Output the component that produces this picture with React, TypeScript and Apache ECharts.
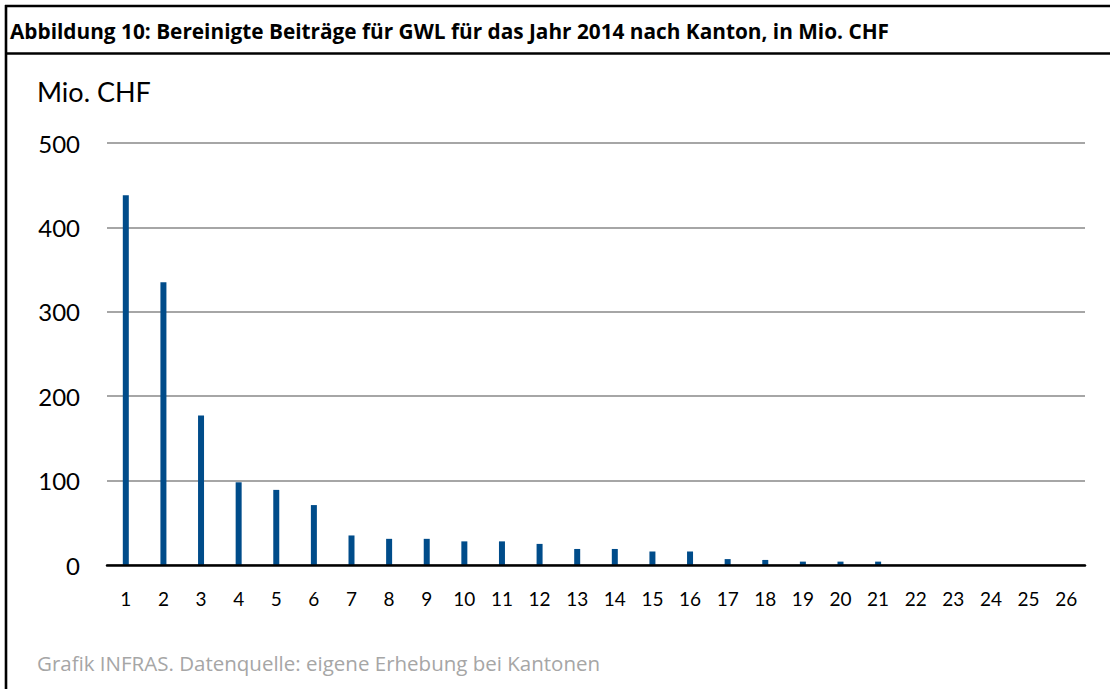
import React, { useEffect, useRef } from "react";
import * as echarts from "echarts";

const titleText =
  "Abbildung 10: Bereinigte Beiträge für GWL für das Jahr 2014 nach Kanton, in Mio. CHF";
const unitText = "Mio. CHF";
const sourceText = "Grafik INFRAS. Datenquelle: eigene Erhebung bei Kantonen";

const cantons = [
  "1", "2", "3", "4", "5", "6", "7", "8", "9", "10", "11", "12", "13",
  "14", "15", "16", "17", "18", "19", "20", "21", "22", "23", "24", "25", "26",
];

const contributions = [
  438, 335, 177, 98, 89, 71, 35, 31, 31, 28, 28, 25, 19,
  19, 16, 16, 7, 6, 4, 4, 4, 0, 0, 0, 0, 0,
];

const yMin = 0;
const yMax = 500;
const yStep = 100;

const FONT = "Lato, 'Open Sans', sans-serif";
const WIDE = "'Open Sans', sans-serif";

export default function App() {
  const ref = useRef<HTMLDivElement>(null);

  useEffect(() => {
    document.body.style.margin = "0";
    const chart = echarts.init(ref.current!, null, { renderer: "svg" });
    chart.setOption({
      animation: false,
      backgroundColor: "#ffffff",
      textStyle: { fontFamily: FONT },
      grid: { left: 107, right: 25, top: 143, bottom: 124 },
      xAxis: {
        type: "category",
        data: cantons,
        z: 10,
        axisLine: { show: true, lineStyle: { color: "#000000", width: 2.5 } },
        axisTick: { show: false },
        axisLabel: {
          color: "#000000",
          fontSize: 19,
          fontFamily: FONT,
          margin: 24,
        },
      },
      yAxis: {
        type: "value",
        min: yMin,
        max: yMax,
        interval: yStep,
        axisLine: { show: false },
        axisTick: { show: false },
        axisLabel: {
          color: "#000000",
          fontSize: 24,
          fontFamily: FONT,
          margin: 27,
        },
        splitLine: { show: true, lineStyle: { color: "#a6a6a6", width: 2 } },
      },
      series: [
        {
          type: "bar",
          data: contributions,
          barWidth: 6,
          itemStyle: { color: "#004c8a" },
        },
      ],
      graphic: [
        {
          type: "line",
          shape: { x1: 5, y1: 6, x2: 1110, y2: 6 },
          style: { stroke: "#000000", lineWidth: 2.5 },
        },
        {
          type: "line",
          shape: { x1: 5, y1: 53.5, x2: 1110, y2: 53.5 },
          style: { stroke: "#000000", lineWidth: 2.5 },
        },
        {
          type: "line",
          shape: { x1: 6, y1: 5, x2: 6, y2: 689 },
          style: { stroke: "#000000", lineWidth: 2.6 },
        },
        {
          type: "text",
          x: 10,
          y: 31,
          style: {
            text: titleText,
            fontFamily: WIDE,
            fontWeight: "bold",
            fontSize: 20.8,
            fill: "#000000",
            textVerticalAlign: "middle",
          },
        },
        {
          type: "text",
          x: 37,
          y: 91,
          style: {
            text: unitText,
            fontFamily: FONT,
            fontSize: 27,
            fill: "#000000",
            textVerticalAlign: "middle",
          },
        },
        {
          type: "text",
          x: 37,
          y: 663,
          style: {
            text: sourceText,
            fontFamily: WIDE,
            fontSize: 20.5,
            fill: "#a6a6a6",
            textVerticalAlign: "middle",
          },
        },
      ],
    });
    return () => chart.dispose();
  }, []);

  return <div ref={ref} style={{ width: 1110, height: 689 }} />;
}
